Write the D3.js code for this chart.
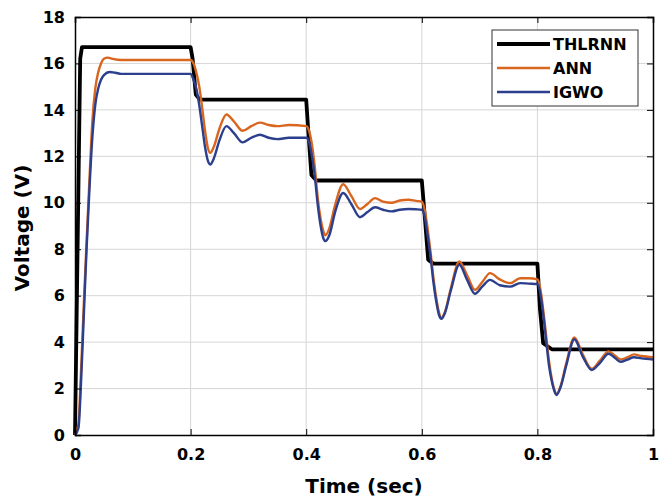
<!doctype html>
<html lang="en">
    <head>
        <meta charset="utf-8">
        <title>Voltage response</title>
        <script src="https://cdn.jsdelivr.net/npm/d3@7"></script>
        <style>
            body { margin: 0; background: #fff; }
            text { font-family: "DejaVu Sans", sans-serif; font-weight: bold; fill: #000; }
        </style>
    </head>
    <body>
        <script>
            // series values: [time (sec), voltage (V)]
            var thlrnn = [
                [0, 0], [0.009, 16.2], [0.012, 16.7], [0.2, 16.7], [0.2035, 16.2], [0.209, 14.66], [0.216, 14.44],
                [0.4, 14.44], [0.403, 13.3], [0.409, 11.2], [0.4175, 10.96],
                [0.6, 10.96], [0.6055, 9.3], [0.611, 7.55], [0.62, 7.38],
                [0.8, 7.38], [0.8045, 5.4], [0.81, 3.95], [0.825, 3.69], [1, 3.69]
            ];
            var ann = [
                [0, 0], [0.006, 0.5], [0.01, 2.5], [0.015, 5.5], [0.02, 8.3], [0.025, 11], [0.03, 13.5],
                [0.035, 14.9], [0.04, 15.6], [0.045, 16.0], [0.05, 16.2], [0.057, 16.25], [0.065, 16.2],
                [0.08, 16.15], [0.2, 16.15],
                [0.205, 16.0], [0.21, 15.6], [0.215, 15.0], [0.22, 14.1], [0.225, 13.1], [0.23, 12.35],
                [0.234, 12.15], [0.24, 12.4], [0.25, 13.2], [0.262, 13.8], [0.275, 13.5], [0.29, 13.1],
                [0.305, 13.3], [0.32, 13.45], [0.335, 13.35], [0.35, 13.3], [0.37, 13.35], [0.4, 13.3],
                [0.405, 13.1], [0.41, 12.5], [0.415, 11.5], [0.42, 10.2], [0.425, 9.3], [0.43, 8.75],
                [0.433, 8.6], [0.44, 8.9], [0.45, 9.9], [0.464, 10.8], [0.478, 10.3], [0.493, 9.73],
                [0.506, 9.95], [0.519, 10.2], [0.533, 10.05], [0.548, 10.0], [0.562, 10.1], [0.577, 10.13],
                [0.59, 10.08], [0.6, 10.05],
                [0.605, 9.7], [0.61, 8.9], [0.615, 7.9], [0.62, 6.8], [0.625, 5.9], [0.63, 5.25],
                [0.634, 5.05], [0.64, 5.3], [0.65, 6.3], [0.665, 7.47], [0.678, 6.9], [0.692, 6.25],
                [0.705, 6.6], [0.718, 6.97], [0.735, 6.7], [0.753, 6.54], [0.77, 6.75], [0.785, 6.75],
                [0.8, 6.7],
                [0.805, 6.3], [0.81, 5.4], [0.815, 4.3], [0.82, 3.2], [0.825, 2.4], [0.83, 1.9],
                [0.833, 1.75], [0.84, 2.1], [0.85, 3.1], [0.864, 4.2], [0.878, 3.5], [0.894, 2.85],
                [0.908, 3.2], [0.923, 3.6], [0.935, 3.4], [0.944, 3.25], [0.956, 3.35], [0.967, 3.47],
                [0.98, 3.4], [1, 3.35]
            ];
            var igwo = [
                [0, 0], [0.006, 0.3], [0.01, 2], [0.015, 5], [0.02, 8], [0.025, 10.6], [0.03, 12.8],
                [0.035, 14.2], [0.04, 14.9], [0.045, 15.3], [0.05, 15.5], [0.06, 15.63], [0.07, 15.6],
                [0.08, 15.55], [0.2, 15.55],
                [0.205, 15.3], [0.21, 14.9], [0.215, 14.2], [0.22, 13.3], [0.225, 12.4], [0.23, 11.8],
                [0.234, 11.65], [0.24, 11.9], [0.25, 12.7], [0.262, 13.3], [0.275, 13.0], [0.29, 12.6],
                [0.305, 12.8], [0.32, 12.93], [0.335, 12.8], [0.35, 12.74], [0.37, 12.8], [0.4, 12.8],
                [0.405, 12.6], [0.41, 12.0], [0.415, 11.1], [0.42, 9.9], [0.425, 9.0], [0.43, 8.45],
                [0.433, 8.35], [0.44, 8.6], [0.45, 9.6], [0.464, 10.42], [0.478, 9.95], [0.493, 9.38],
                [0.506, 9.6], [0.519, 9.81], [0.533, 9.7], [0.548, 9.63], [0.562, 9.7], [0.577, 9.73],
                [0.59, 9.72], [0.6, 9.7],
                [0.605, 9.4], [0.61, 8.6], [0.615, 7.7], [0.62, 6.6], [0.625, 5.75], [0.63, 5.15],
                [0.634, 5.0], [0.64, 5.25], [0.65, 6.2], [0.665, 7.33], [0.678, 6.7], [0.692, 6.08],
                [0.705, 6.4], [0.718, 6.68], [0.735, 6.45], [0.753, 6.39], [0.77, 6.54], [0.785, 6.52],
                [0.8, 6.5],
                [0.805, 6.1], [0.81, 5.2], [0.815, 4.1], [0.82, 3.0], [0.825, 2.3], [0.83, 1.85],
                [0.833, 1.72], [0.84, 2.05], [0.85, 3.0], [0.864, 4.12], [0.878, 3.4], [0.894, 2.8],
                [0.908, 3.1], [0.923, 3.5], [0.935, 3.3], [0.944, 3.15], [0.956, 3.25], [0.967, 3.35],
                [0.98, 3.3], [1, 3.25]
            ];

            var xTicks = [0, 0.2, 0.4, 0.6, 0.8, 1];
            var yTicks = [0, 2, 4, 6, 8, 10, 12, 14, 16, 18];
            var names = ["THLRNN", "ANN", "IGWO"];
            var colors = ["#000000", "#d9661f", "#2b3f8c"];

            var svgW = 672, svgH = 497;
            var margin = {top: 17, right: 19, bottom: 62, left: 75};
            var w = svgW - margin.left - margin.right;
            var h = svgH - margin.top - margin.bottom;

            var svg = d3.select("body")
                        .append("svg")
                        .attr("width", svgW)
                        .attr("height", svgH);

            var g = svg.append("g")
                       .attr("transform", "translate(" + margin.left + "," + margin.top + ")");

            var xScale = d3.scaleLinear().domain([0, 1]).range([0, w]);
            var yScale = d3.scaleLinear().domain([0, 18]).range([h, 0]);

            // grid
            g.append("g")
             .selectAll("line.vg")
             .data(xTicks.slice(1, -1))
             .enter()
             .append("line")
             .attr("x1", d => xScale(d)).attr("x2", d => xScale(d))
             .attr("y1", 0).attr("y2", h)
             .attr("stroke", "#d6d6d6").attr("stroke-width", 1);
            g.append("g")
             .selectAll("line.hg")
             .data(yTicks.slice(1, -1))
             .enter()
             .append("line")
             .attr("x1", 0).attr("x2", w)
             .attr("y1", d => yScale(d)).attr("y2", d => yScale(d))
             .attr("stroke", "#d6d6d6").attr("stroke-width", 1);

            // lines
            var line = d3.line()
                         .x(d => xScale(d[0]))
                         .y(d => yScale(d[1]));
            var smooth = d3.line()
                           .x(d => xScale(d[0]))
                           .y(d => yScale(d[1]))
                           .curve(d3.curveMonotoneX);

            g.append("path").attr("d", line(thlrnn))
             .attr("fill", "none").attr("stroke", colors[0]).attr("stroke-width", 3.8)
             .attr("stroke-linejoin", "round");
            g.append("path").attr("d", smooth(ann))
             .attr("fill", "none").attr("stroke", colors[1]).attr("stroke-width", 2.4);
            g.append("path").attr("d", smooth(igwo))
             .attr("fill", "none").attr("stroke", colors[2]).attr("stroke-width", 2.4);

            // axes (ticks inside, box)
            var xAxis = d3.axisBottom(xScale).tickValues(xTicks).tickSize(-6).tickPadding(11)
                          .tickFormat(d3.format("~g"));
            var yAxis = d3.axisLeft(yScale).tickValues(yTicks).tickSize(-6).tickPadding(10);

            var gx = g.append("g").attr("transform", "translate(0," + h + ")").call(xAxis);
            var gy = g.append("g").call(yAxis);
            g.append("g").call(d3.axisTop(xScale).tickValues(xTicks).tickSize(-6).tickFormat(""));
            g.append("g").attr("transform", "translate(" + w + ",0)")
             .call(d3.axisRight(yScale).tickValues(yTicks).tickSize(-6).tickFormat(""));

            g.selectAll(".domain").attr("stroke", "#000").attr("stroke-width", 1.5);
            g.selectAll(".tick line").attr("stroke", "#000").attr("stroke-width", 1);
            gx.selectAll("text").style("font-size", "16px").attr("dy", "0.9em");
            gy.selectAll("text").style("font-size", "16px");

            // axis labels
            svg.append("text")
               .attr("x", margin.left + w / 2)
               .attr("y", 493)
               .attr("text-anchor", "middle")
               .style("font-size", "20px")
               .text("Time (sec)");
            svg.append("text")
               .attr("transform", "translate(29," + (margin.top + h / 2 + 2) + ") rotate(-90)")
               .attr("text-anchor", "middle")
               .style("font-size", "20px")
               .text("Voltage (V)");

            // legend
            var lg = svg.append("g").attr("transform", "translate(492,30)");
            lg.append("rect")
              .attr("width", 146).attr("height", 76)
              .attr("fill", "#fff").attr("stroke", "#333").attr("stroke-width", 1);
            var items = lg.selectAll("g.item")
                          .data(names)
                          .enter()
                          .append("g")
                          .attr("class", "item")
                          .attr("transform", (_, i) => "translate(0," + (14 + i * 24) + ")");
            items.append("line")
                 .attr("x1", 5).attr("x2", 58)
                 .attr("stroke", (_, i) => colors[i])
                 .attr("stroke-width", (_, i) => i == 0 ? 3.8 : 2.4);
            items.append("text")
                 .attr("x", 61).attr("dy", "0.36em")
                 .style("font-size", "16px")
                 .text(d => d);
        </script>
    </body>
</html>
